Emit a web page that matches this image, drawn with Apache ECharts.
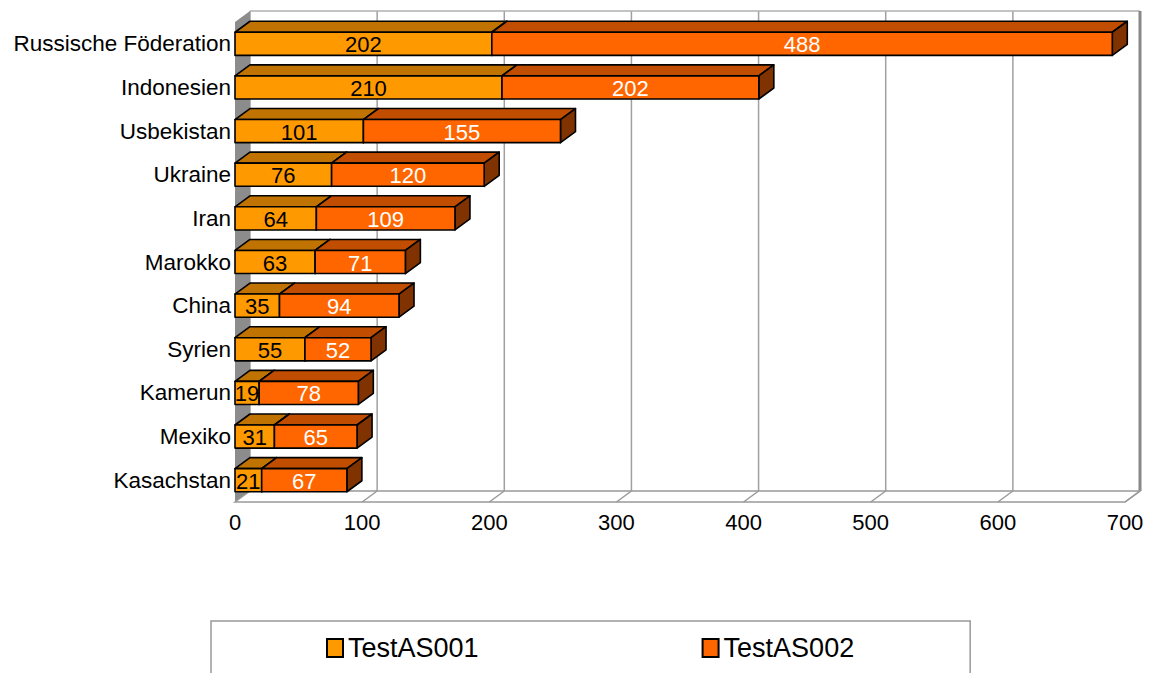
<!DOCTYPE html>
<html>
<head>
<meta charset="utf-8">
<script src="https://cdn.jsdelivr.net/npm/echarts@6/dist/echarts.min.js"></script>
<style>
  html, body { margin: 0; padding: 0; background: #fff; }
  #main { width: 1156px; height: 673px; }
</style>
</head>
<body>
<div id="main"></div>
<script>
const categories = ['Russische Föderation', 'Indonesien', 'Usbekistan', 'Ukraine', 'Iran', 'Marokko', 'China', 'Syrien', 'Kamerun', 'Mexiko', 'Kasachstan'];
const as001 = [202, 210, 101, 76, 64, 63, 35, 55, 19, 31, 21];
const as002 = [488, 202, 155, 120, 109, 71, 94, 52, 78, 65, 67];
const xTicks = [0, 100, 200, 300, 400, 500, 600, 700];

// depth of the fake 3d
const DX = 15, DY = -11;
const FONT = 'Liberation Sans, Arial, sans-serif';

function frameItem(params, api) {
	const cs = params.coordSys;
	const bot = cs.y + cs.height;
	const kids = [];
	// back wall
	kids.push({
		type: 'rect',
		shape: { x: cs.x + DX, y: cs.y + DY, width: cs.width, height: cs.height },
		style: { fill: '#fff', stroke: null }
	});
	// grid lines on the back wall
	xTicks.forEach(function (t) {
		const x = api.coord([t, 0])[0] + DX;
		kids.push({
			type: 'line',
			shape: { x1: x, y1: cs.y + DY, x2: x, y2: bot + DY },
			style: { stroke: '#a0a0a0', lineWidth: 1.5 }
		});
	});
	kids.push({
		type: 'line',
		shape: { x1: cs.x + DX, y1: cs.y + DY, x2: cs.x + cs.width + DX, y2: cs.y + DY },
		style: { stroke: '#b0b0b0', lineWidth: 1.5 }
	});
	kids.push({
		type: 'line',
		shape: { x1: cs.x + cs.width + DX, y1: cs.y + DY, x2: cs.x + cs.width + DX, y2: bot + DY },
		style: { stroke: '#888', lineWidth: 3 }
	});
	// left wall
	kids.push({
		type: 'polygon',
		shape: { points: [[cs.x, cs.y], [cs.x + DX, cs.y + DY], [cs.x + DX, bot + DY], [cs.x, bot]] },
		style: { fill: '#8c8c8c', stroke: null }
	});
	// floor
	kids.push({
		type: 'polygon',
		shape: { points: [[cs.x, bot], [cs.x + DX, bot + DY], [cs.x + cs.width + DX, bot + DY], [cs.x + cs.width, bot]] },
		style: { fill: '#fff', stroke: '#999', lineWidth: 1.5 }
	});
	xTicks.forEach(function (t) {
		if (t === 0) return;
		const x = api.coord([t, 0])[0];
		kids.push({
			type: 'line',
			shape: { x1: x, y1: bot, x2: x + DX, y2: bot + DY },
			style: { stroke: '#999', lineWidth: 1.5 }
		});
	});
	return { type: 'group', children: kids };
}

function barRenderer(front, top, side, textColor) {
	return function (params, api) {
		const cat = api.value(0);
		const p0 = api.coord([api.value(1), cat]);
		const p1 = api.coord([api.value(2), cat]);
		const h = api.size([0, 1])[1] * 0.53;
		const x0 = p0[0], x1 = p1[0];
		const yT = p0[1] - h / 2, yB = p0[1] + h / 2;
		const line = { stroke: '#000', lineWidth: 1.6, lineJoin: 'round' };
		return {
			type: 'group',
			children: [
				{ type: 'polygon', shape: { points: [[x0, yT], [x0 + DX, yT + DY], [x1 + DX, yT + DY], [x1, yT]] },
					style: Object.assign({ fill: top }, line) },
				{ type: 'polygon', shape: { points: [[x1, yT], [x1 + DX, yT + DY], [x1 + DX, yB + DY], [x1, yB]] },
					style: Object.assign({ fill: side }, line) },
				{ type: 'rect', shape: { x: x0, y: yT, width: x1 - x0, height: yB - yT },
					style: Object.assign({ fill: front }, line) },
				{ type: 'text', style: { text: String(api.value(3)), x: (x0 + x1) / 2, y: p0[1] + 1,
					align: 'center', verticalAlign: 'middle', fill: textColor, font: '22px ' + FONT } }
			]
		};
	};
}

const data1 = as001.map(function (v, i) { return [i, 0, v, v]; });
const data2 = as002.map(function (v, i) { return [i, as001[i], as001[i] + v, v]; });

let myCharts = echarts.init(document.getElementById('main'), null, { renderer: 'svg' });
let option = {
	animation: false,
	textStyle: { fontFamily: FONT },
	grid: { left: 235, right: 31, top: 22, bottom: 171 },
	xAxis: {
		type: 'value', min: 0, max: 700, interval: 100,
		axisLine: { show: false }, axisTick: { show: false }, splitLine: { show: false },
		axisLabel: { color: '#000', fontSize: 22, margin: 9, fontFamily: FONT }
	},
	yAxis: {
		type: 'category', data: categories, inverse: true,
		axisLine: { show: false }, axisTick: { show: false },
		axisLabel: { color: '#000', fontSize: 22.5, margin: 4, fontFamily: FONT }
	},
	legend: {
		data: ['TestAS001', 'TestAS002'],
		left: 211, top: 621,
		padding: [12, 116, 40, 115],
		itemGap: 223,
		itemWidth: 16, itemHeight: 18,
		icon: 'rect',
		borderColor: '#999', borderWidth: 1.5,
		textStyle: { fontSize: 27, color: '#000', lineHeight: 30, fontFamily: FONT }
	},
	series: [
		{
			name: 'frame', type: 'custom', renderItem: frameItem, data: [[0, 0]],
			clip: false, silent: true, z: 1, encode: { x: 0, y: 1 }
		},
		{
			name: 'TestAS001', type: 'custom', renderItem: barRenderer('#FF9900', '#C07300', '#804D00', '#000'),
			data: data1, clip: false, z: 2, encode: { x: [1, 2], y: 0 },
			itemStyle: { color: '#FF9900', borderColor: '#000', borderWidth: 1.5 }
		},
		{
			name: 'TestAS002', type: 'custom', renderItem: barRenderer('#FF6600', '#C04D00', '#803300', '#fff'),
			data: data2, clip: false, z: 3, encode: { x: [1, 2], y: 0 },
			itemStyle: { color: '#FF6600', borderColor: '#000', borderWidth: 1.5 }
		}
	]
};
myCharts.setOption(option);
</script>
</body>
</html>
